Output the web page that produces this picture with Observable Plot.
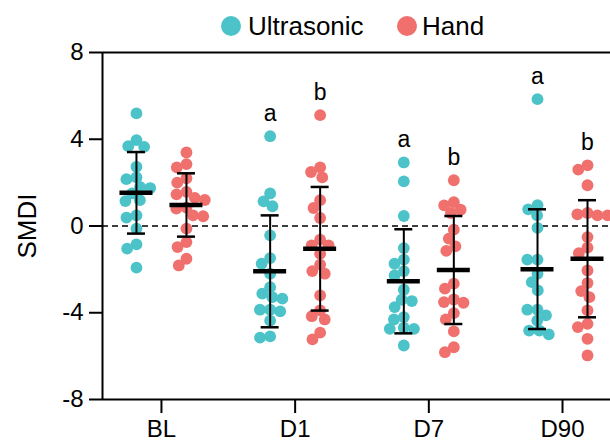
<!DOCTYPE html>
<html><head><meta charset="utf-8">
<script src="https://cdn.jsdelivr.net/npm/d3@7"></script>
<script src="https://cdn.jsdelivr.net/npm/@observablehq/plot@0.6"></script>
<style>
html,body{margin:0;padding:0;background:#fff;overflow:hidden;width:610px;height:441px;}
#wrap{position:relative;width:610px;height:441px;font-family:"Liberation Sans",Arial,Helvetica,sans-serif;}
#legend{position:absolute;top:0;left:0;width:610px;height:50px;z-index:2;}
.sw{position:absolute;width:20px;height:20px;border-radius:50%;top:16px;}
.lb{position:absolute;top:8px;font-size:26px;line-height:36px;color:#000;white-space:nowrap;}
#chart{position:absolute;top:0;left:0;}
</style></head>
<body><div id="wrap"><div id="legend"></div><div id="chart"></div></div>
<script>
// ---- data ----
const timepoints = ["BL", "D1", "D7", "D90"];
const seriesNames = ["Ultrasonic", "Hand"];
const seriesColors = ["#4cc3c8", "#f0706d"];
const yTicks = [-8, -4, 0, 4, 8];

const ultrasonicBL = [5.19, 3.96, 3.68, 3.65, 2.73, 2.24, 2.16, 1.8, 1.75, 1.5, 1.19, 1.15, 0.49, 0.39, -0.12, -0.85, -1.04, -1.92];
const ultrasonicD1 = [4.14, 1.5, 1.14, 0.91, -0.43, -1.48, -1.74, -2.2, -2.82, -3.12, -3.28, -3.35, -3.86, -3.86, -3.94, -4.36, -5.09, -5.15];
const ultrasonicD7 = [2.93, 2.06, 0.46, -1.02, -1.55, -1.74, -2.08, -2.28, -2.94, -3.4, -3.46, -3.74, -4.2, -4.31, -4.69, -4.74, -4.74, -5.51];
const ultrasonicD90 = [5.85, 0.96, 0.77, 0.49, -0.09, -1.55, -1.55, -2.2, -2.59, -2.97, -3.86, -3.86, -4.12, -4.36, -4.82, -4.82, -5.0];

const handBL = [3.39, 2.85, 2.7, 2.2, 2.0, 1.57, 1.46, 1.3, 1.2, 0.85, 0.8, 0.49, 0.45, -0.12, -0.74, -0.97, -1.51, -1.82];
const handD1 = [5.11, 2.7, 2.49, 2.24, 1.19, 0.83, 0.37, -0.63, -0.89, -0.89, -1.28, -1.78, -2.08, -2.2, -3.2, -3.89, -4.16, -4.31, -4.92, -5.23];
const handD7 = [2.11, 1.1, 0.95, 0.75, 0.6, -0.17, -0.58, -0.94, -1.15, -2.66, -2.89, -3.39, -3.51, -3.54, -4.02, -4.31, -4.86, -5.59, -5.82];
const handD90 = [2.8, 2.6, 1.88, 0.6, 0.54, 0.49, 0.49, -0.51, -1.0, -1.25, -2.05, -2.63, -3.0, -3.28, -3.89, -4.51, -4.66, -5.2, -5.97];

const ultrasonicMean = [1.53, -2.09, -2.55, -1.99];
const ultrasonicSD = [1.88, 2.58, 2.40, 2.76];
const handMean = [0.97, -1.05, -2.03, -1.51];
const handSD = [1.46, 2.85, 2.49, 2.70];

const ultrasonicLetters = ["", "a", "a", "a"];
const handLetters = ["", "b", "b", "b"];

// ---- layout ----
const W = 610, H = 460, mL = 102, mR = 0, mT = 52, mB = 61;
const xDomain = [-0.441, 3.359], yDomain = [-8, 8];
const pxX = (W - mL - mR) / (xDomain[1] - xDomain[0]);
const pxY = (H - mT - mB) / (yDomain[1] - yDomain[0]);
const seriesOffset = 25 / pxX;
const capHalf = 9 / pxX;
const meanHalf = 16.5 / pxX;
const diam = 10.2;

function swarm(vals, d) {
  const idx = vals.map((v, i) => i).sort((a, b) => vals[b] - vals[a]);
  const placed = [];
  const out = new Array(vals.length);
  for (const i of idx) {
    const y = vals[i] * pxY;
    const cands = [0];
    for (const p of placed) {
      const dy = Math.abs(p.y - y);
      if (dy < d) {
        const dx = Math.sqrt(d * d - dy * dy);
        cands.push(p.x - dx, p.x + dx);
      }
    }
    cands.sort((a, b) => Math.abs(a) - Math.abs(b) || a - b);
    let best = 0;
    for (const c of cands) {
      if (placed.every(p => (p.x - c) ** 2 + (p.y - y) ** 2 >= d * d - 1e-6)) { best = c; break; }
    }
    placed.push({x: best, y});
    out[i] = best;
  }
  return out;
}

const groups = [
  [ultrasonicBL, ultrasonicD1, ultrasonicD7, ultrasonicD90],
  [handBL, handD1, handD7, handD90]
];
const means = [ultrasonicMean, handMean];
const sds = [ultrasonicSD, handSD];
const letterSets = [ultrasonicLetters, handLetters];

const points = [], stats = [], letters = [];
groups.forEach((g, s) => g.forEach((vals, t) => {
  const cx = t + (s === 0 ? -1 : 1) * seriesOffset;
  const dx = swarm(vals, diam);
  vals.forEach((v, i) => points.push({x: cx + dx[i] / pxX, y: v, series: seriesNames[s]}));
  const m = means[s][t], sd = sds[s][t];
  stats.push({cx, m, lo: m - sd, hi: m + sd});
  if (letterSets[s][t]) letters.push({cx, top: d3.max(vals), label: letterSets[s][t]});
}));

// ---- legend ----
const legend = document.getElementById("legend");
legend.innerHTML =
  `<div class="sw" style="left:221px;background:${seriesColors[0]}"></div>` +
  `<div class="lb" style="left:248px">${seriesNames[0]}</div>` +
  `<div class="sw" style="left:397px;background:${seriesColors[1]}"></div>` +
  `<div class="lb" style="left:422px">${seriesNames[1]}</div>`;

// ---- chart ----
const chart = Plot.plot({
  width: W, height: H,
  marginLeft: mL, marginRight: mR, marginTop: mT, marginBottom: mB,
  style: {fontFamily: '"Liberation Sans", Arial, Helvetica, sans-serif', color: "black", background: "transparent", overflow: "visible"},
  x: {type: "linear", domain: xDomain},
  y: {domain: yDomain},
  color: {domain: seriesNames, range: seriesColors},
  marks: [
    Plot.ruleY([0], {stroke: "black", strokeWidth: 1.5, strokeDasharray: "6,4"}),
    Plot.dot(points, {x: "x", y: "y", r: 5.9, fill: "series", stroke: "none"}),
    Plot.ruleX(stats, {x: "cx", y1: "lo", y2: "hi", stroke: "black", strokeWidth: 2}),
    Plot.ruleY(stats, {y: "hi", x1: d => d.cx - capHalf, x2: d => d.cx + capHalf, stroke: "black", strokeWidth: 2.5}),
    Plot.ruleY(stats, {y: "lo", x1: d => d.cx - capHalf, x2: d => d.cx + capHalf, stroke: "black", strokeWidth: 2.5}),
    Plot.ruleY(stats, {y: "m", x1: d => d.cx - meanHalf, x2: d => d.cx + meanHalf, stroke: "black", strokeWidth: 4.5}),
    Plot.text(letters, {x: "cx", y: "top", text: "label", dy: -15, lineAnchor: "bottom", fontSize: 23, fill: "black"}),
    Plot.ruleX([xDomain[0]], {stroke: "black", strokeWidth: 2}),
    Plot.ruleY([yDomain[0]], {stroke: "black", strokeWidth: 2}),
    Plot.ruleY([yDomain[1]], {stroke: "black", strokeWidth: 2}),
    Plot.axisY({ticks: yTicks, tickFormat: d => String(d), tickSize: 13, tickPadding: 6, fontSize: 24, strokeWidth: 2, label: null}),
    Plot.axisX({ticks: [0, 1, 2, 3], tickFormat: i => timepoints[i], tickSize: 14, tickPadding: 6, fontSize: 24, strokeWidth: 2, label: null}),
    Plot.text(["SMDI"], {frameAnchor: "left", dx: -75, rotate: -90, text: d => d, fontSize: 26, textAnchor: "middle", lineAnchor: "middle", fill: "black"})
  ]
});
document.getElementById("chart").appendChild(chart);
</script>
</body></html>
